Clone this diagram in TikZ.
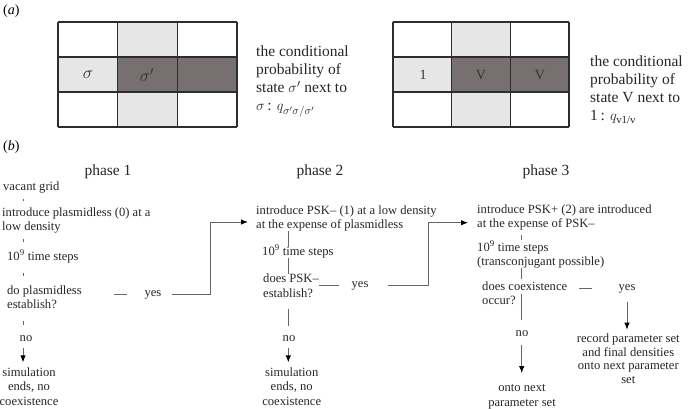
\documentclass[tikz,border=0pt]{standalone}
\usepackage{amsmath}
\usepackage{fontspec}
\setmainfont{Liberation Serif}
\usetikzlibrary{arrows.meta,positioning}
\definecolor{lightcell}{RGB}{230,230,230}
\definecolor{darkcell}{RGB}{118,112,112}
\definecolor{gridcol}{RGB}{45,45,45}
\tikzset{
    %Define standard arrow tip
    >={Latex[length=7pt,width=5.5pt,color=black]},
    %Define style for the flow text (placed at the baseline of the last line)
    stage/.style={
           anchor=base west,
           align=left,
           inner sep=0pt,
           text=black!85,
           font=\fontsize{12.6}{14.5}\selectfont},
    ending/.style={
           stage,
           anchor=base,
           align=center},
    phase/.style={
           inner sep=0pt,
           text=black!85,
           font=\fontsize{15.5}{18}\selectfont},
    note/.style={
           anchor=base west,
           align=left,
           inner sep=0pt,
           text=black!85,
           font=\fontsize{15.5}{18}\selectfont},
    tag/.style={
           anchor=west,
           inner sep=0pt,
           font=\fontsize{14}{16}\selectfont},
    cell/.style={
           inner sep=0pt,
           text=black!80,
           font=\fontsize{14}{16}\selectfont},
    gridline/.style={
           draw=gridcol,
           line width=1.3pt},
    % Define connector style
    pil/.style={
           draw=black!60,
           line width=0.9pt}
}

\begin{document}
\begin{tikzpicture}[x=1pt,y=-1pt]
\useasboundingbox (0,0) rectangle (688,409);

%panel a, left grid
\fill[lightcell] (117.7,22) rectangle (177.3,127);
\fill[lightcell] (58,57) rectangle (117.7,92);
\fill[darkcell] (117.7,57) rectangle (237,92);
\foreach \x in {58,117.7,177.3,237} \draw[gridline] (\x,22) -- (\x,127);
\foreach \y in {22,57,92,127} \draw[gridline] (58,\y) -- (237,\y);
\node[cell, font=\fontsize{17}{18}\selectfont] (sig) at (88,75) {$\sigma$};
\node[cell, font=\fontsize{17}{18}\selectfont] (sigp) at (147,75) {$\sigma'$};

%panel a, right grid
\fill[lightcell] (451.7,22) rectangle (510.3,127);
\fill[lightcell] (393,57) rectangle (451.7,92);
\fill[darkcell] (451.7,57) rectangle (569,92);
\foreach \x in {393,451.7,510.3,569} \draw[gridline] (\x,22) -- (\x,127);
\foreach \y in {22,57,92,127} \draw[gridline] (393,\y) -- (569,\y);
\node[cell] (one) at (423,75) {1};
\node[cell] (vee1) at (481,75) {V};
\node[cell] (vee2) at (540,75) {V};

\node[tag] (taga) at (3,11) {(\textit{a})};
\node[note] (notea) at (256,111) {the conditional\\probability of\\state $\sigma'$ next to\\$\sigma$\,: $q_{\sigma'\sigma/\sigma'}$};
\node[note] (noteb) at (590,121) {the conditional\\probability of\\state V next to\\1\,: $q_{\text{v1/v}}$};

%panel b
\node[tag] (tagb) at (3,147) {(\textit{b})};
\node[phase] (ph1) at (108,172) {phase 1};
\node[phase] (ph2) at (320,172) {phase 2};
\node[phase] (ph3) at (546,172) {phase 3};

\coordinate (trunk1) at (23,0);
\coordinate (trunk2) at (288.3,0);
\coordinate (trunk3) at (521.7,0);

%phase 1
\node[stage] (vacant) at (3,190) {vacant grid};
\node[stage] (intro1) at (2,230.5) {introduce plasmidless (0) at a\\low density};
\node[stage] (time1) at (7,260) {10\textsuperscript{9} time steps};
\node[stage] (estab1) at (7,308.5) {do plasmidless\\establish?};
\node[stage, anchor=base] (no1) at (26,341) {no};
\node[ending] (end1) at (29,405) {simulation\\ends, no\\coexistence};
\node[stage, anchor=base] (yes1) at (153,296) {yes};
\coordinate (bend1) at (210,222);

\draw[pil, shorten <=6pt, shorten >=6pt] (vacant.south -| trunk1) -- (intro1.north -| trunk1);
\draw[pil, shorten <=5.6pt, shorten >=7.8pt] (intro1.south -| trunk1) -- (time1.north -| trunk1);
\draw[pil, shorten <=10pt, shorten >=8.7pt] (time1.south -| trunk1) -- (estab1.north -| trunk1);
\draw[pil, shorten <=12pt, shorten >=10.3pt] (estab1.south -| trunk1) -- (no1.north -| trunk1);
\draw[pil, ->, shorten <=7pt, shorten >=4.7pt] (no1.south -| trunk1) -- (end1.north -| trunk1);
\draw[pil, shorten <=32pt, shorten >=17.6pt] (estab1.east |- yes1) -- (yes1.west);

%phase 2
\node[stage] (intro2) at (256,228.5) {introduce PSK– (1) at a low density\\at the expense of plasmidless};
\node[stage] (time2) at (262,255) {10\textsuperscript{9} time steps};
\node[stage] (estab2) at (263,297) {does PSK–\\establish?};
\node[stage, anchor=base] (yes2) at (360,287) {yes};
\node[stage, anchor=base] (no2) at (289,341) {no};
\node[ending] (end2) at (291.7,405) {simulation\\ends, no\\coexistence};
\coordinate (bend2) at (428.3,222.7);

\draw[pil, shorten >=-2pt] (intro2.south -| trunk2) -- (time2.north -| trunk2);
\draw[pil] (time2.south -| trunk2) -- (estab2.north -| trunk2);
\draw[pil, shorten <=12pt, shorten >=8.6pt] (estab2.south -| trunk2) -- (no2.north -| trunk2);
\draw[pil, ->, shorten <=7pt, shorten >=4.7pt] (no2.south -| trunk2) -- (end2.north -| trunk2);
\draw[pil, shorten >=12.6pt] (estab2.east |- yes2) -- (yes2.west);

%phase 3
\node[stage] (intro3) at (477,227.5) {introduce PSK+ (2) are introduced\\at the expense of PSK–};
\node[stage] (time3) at (477,265.5) {10\textsuperscript{9} time steps\\(transconjugant possible)};
\node[stage] (estab3) at (482,304.5) {does coexistence\\occur?};
\node[stage, anchor=base] (yes3) at (627,290) {yes};
\node[stage, anchor=base] (no3) at (522,336.5) {no};
\node[ending] (onto3) at (522,406) {onto next\\parameter set};
\node[ending, font=\fontsize{12.6}{13.5}\selectfont] (record3) at (628.3,383) {record parameter set\\and final densities\\onto next parameter\\set};

\draw[pil, shorten <=4.8pt, shorten >=0.8pt] (intro3.south -| trunk3) -- (time3.north -| trunk3);
\draw[pil, shorten >=2pt] (time3.south -| trunk3) -- (estab3.north -| trunk3);
\draw[pil, shorten <=-11.3pt, shorten >=10.8pt] (estab3.south -| trunk3) -- (no3.north -| trunk3);
\draw[pil, ->, shorten <=8.5pt, shorten >=11.2pt] (no3.south -| trunk3) -- (onto3.north -| trunk3);
\draw[pil, shorten <=12pt, shorten >=26.6pt] (estab3.east |- yes3) -- (yes3.west);
\draw[pil, ->, shorten <=9pt, shorten >=3.9pt] (yes3.south) -- (yes3.south |- record3.north);

%yes leads to the next phase
\draw[pil, ->, shorten <=10.7pt, shorten >=8pt] (yes1.east) -| (bend1) -- (bend1 -| intro2.west);
\draw[pil, ->, shorten <=19.3pt, shorten >=9pt] (yes2.east) -| (bend2) -- (bend2 -| intro3.west);

\end{tikzpicture}
\end{document}
